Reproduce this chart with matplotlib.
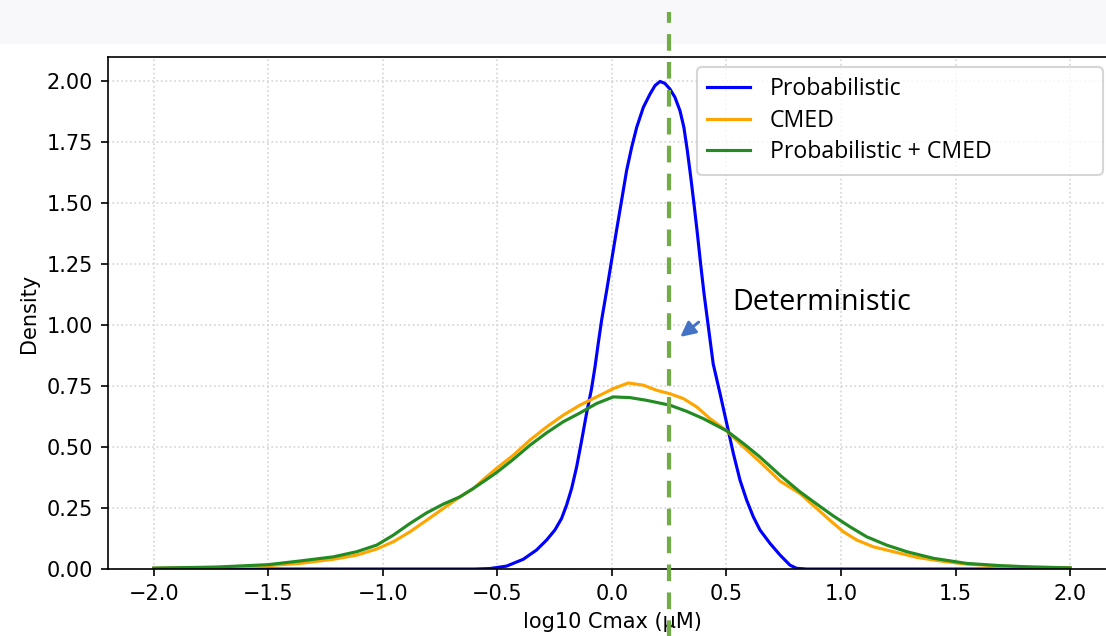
import matplotlib.pyplot as plt
import matplotlib.patches as mpatches
import numpy as np

# values
prob_x = [-2.0, -0.6, -0.533, -0.46, -0.387, -0.329, -0.285, -0.249, -0.22, -0.198,
          -0.176, -0.154, -0.132, -0.111, -0.089, -0.074, -0.06, -0.045, -0.023, -0.0015,
          0.02, 0.042, 0.064, 0.086, 0.108, 0.137, 0.166, 0.188, 0.21, 0.231,
          0.253, 0.275, 0.297, 0.314, 0.329, 0.344, 0.358, 0.373, 0.387, 0.402,
          0.442, 0.472, 0.501, 0.53, 0.559, 0.588, 0.617, 0.646, 0.69, 0.734,
          0.777, 0.806, 0.85, 2.0]
prob_y = [0.0, 0.0, 0.002, 0.012, 0.04, 0.078, 0.119, 0.16, 0.207, 0.262,
          0.33, 0.419, 0.528, 0.637, 0.739, 0.828, 0.923, 1.02, 1.141, 1.264,
          1.387, 1.509, 1.632, 1.727, 1.809, 1.891, 1.945, 1.98, 1.997, 1.989,
          1.966, 1.932, 1.877, 1.809, 1.714, 1.605, 1.496, 1.373, 1.25, 1.127,
          0.84, 0.718, 0.596, 0.473, 0.364, 0.282, 0.214, 0.16, 0.105, 0.057,
          0.016, 0.003, 0.0, 0.0]

cmed_x = [-2.0, -1.726, -1.5, -1.362, -1.216, -1.114, -1.027, -0.954, -0.881, -0.809,
          -0.736, -0.663, -0.605, -0.547, -0.504, -0.431, -0.358, -0.285, -0.213, -0.14,
          -0.067, 0.006, 0.071, 0.137, 0.195, 0.253, 0.312, 0.37, 0.428, 0.501,
          0.574, 0.646, 0.734, 0.821, 0.894, 0.967, 1.01, 1.068, 1.141, 1.229,
          1.33, 1.432, 1.549, 1.694, 1.84, 2.0]
cmed_y = [0.003, 0.007, 0.014, 0.023, 0.04, 0.057, 0.082, 0.112, 0.153, 0.2,
          0.248, 0.296, 0.33, 0.378, 0.412, 0.466, 0.528, 0.582, 0.63, 0.671,
          0.705, 0.739, 0.762, 0.753, 0.732, 0.718, 0.698, 0.664, 0.616, 0.566,
          0.5, 0.439, 0.36, 0.309, 0.248, 0.187, 0.153, 0.119, 0.091, 0.071,
          0.048, 0.033, 0.02, 0.012, 0.008, 0.005]

both_x = [-2.0, -1.726, -1.5, -1.362, -1.216, -1.114, -1.027, -0.954, -0.881, -0.809,
          -0.736, -0.663, -0.605, -0.547, -0.504, -0.431, -0.358, -0.285, -0.213, -0.14,
          -0.067, 0.006, 0.079, 0.151, 0.253, 0.326, 0.399, 0.501, 0.574, 0.646,
          0.734, 0.821, 0.894, 0.967, 1.039, 1.112, 1.199, 1.287, 1.403, 1.549,
          1.694, 1.84, 2.0]
both_y = [0.004, 0.008, 0.018, 0.033, 0.05, 0.071, 0.098, 0.139, 0.187, 0.23,
          0.266, 0.296, 0.33, 0.367, 0.395, 0.449, 0.507, 0.558, 0.603, 0.639,
          0.678, 0.705, 0.702, 0.691, 0.671, 0.646, 0.616, 0.566, 0.514, 0.459,
          0.384, 0.316, 0.266, 0.217, 0.173, 0.132, 0.098, 0.071, 0.044, 0.023,
          0.014, 0.008, 0.005]

deterministic = 0.25

fig = plt.figure(figsize=(1106 / 150, 636 / 150), dpi=150)
# grey band at the top of the screenshot
fig.patches.append(mpatches.Rectangle((0, 0.932), 1, 0.068, transform=fig.transFigure,
                                      color='#f8f7fa', zorder=-1))

ax = fig.add_axes([0.0976, 0.1053, 0.9114, 0.805])
ax.plot(prob_x, prob_y, color='blue', label='Probabilistic')
ax.plot(cmed_x, cmed_y, color='orange', label='CMED')
ax.plot(both_x, both_y, color='forestgreen', label='Probabilistic + CMED')
ax.set_ylim(bottom=0)
ax.set_xticks(np.arange(-2, 2.01, 0.5))
ax.grid(True, linestyle=':', color='#d4d4d4', lw=0.8)
ax.set_xlabel('log10 Cmax (μM)')
ax.set_ylabel('Density')

ax.legend(loc='upper left', bbox_to_anchor=(0.5843, 0, 0.4028, 0.9805), mode='expand',
          borderaxespad=0, prop={'family': 'Open Sans', 'size': 11.1}, labelspacing=0.32,
          handlelength=1.85, handletextpad=0.85, borderpad=0.45)

ax.axvline(deterministic, ymin=-0.14, ymax=1.088, clip_on=False, color='#70ad47',
           lw=2, linestyle=(0, (4, 2.7)), zorder=5)
ax.annotate('', xy=(0.284, 0.94), xytext=(0.393, 1.022),
            arrowprops=dict(arrowstyle='-|>', color='#4472c4', lw=1.4, mutation_scale=15))
ax.text(0.524, 1.059, 'Deterministic', family='Open Sans', fontsize=13.8, va='baseline')

fig.savefig('out.png', dpi=150)
